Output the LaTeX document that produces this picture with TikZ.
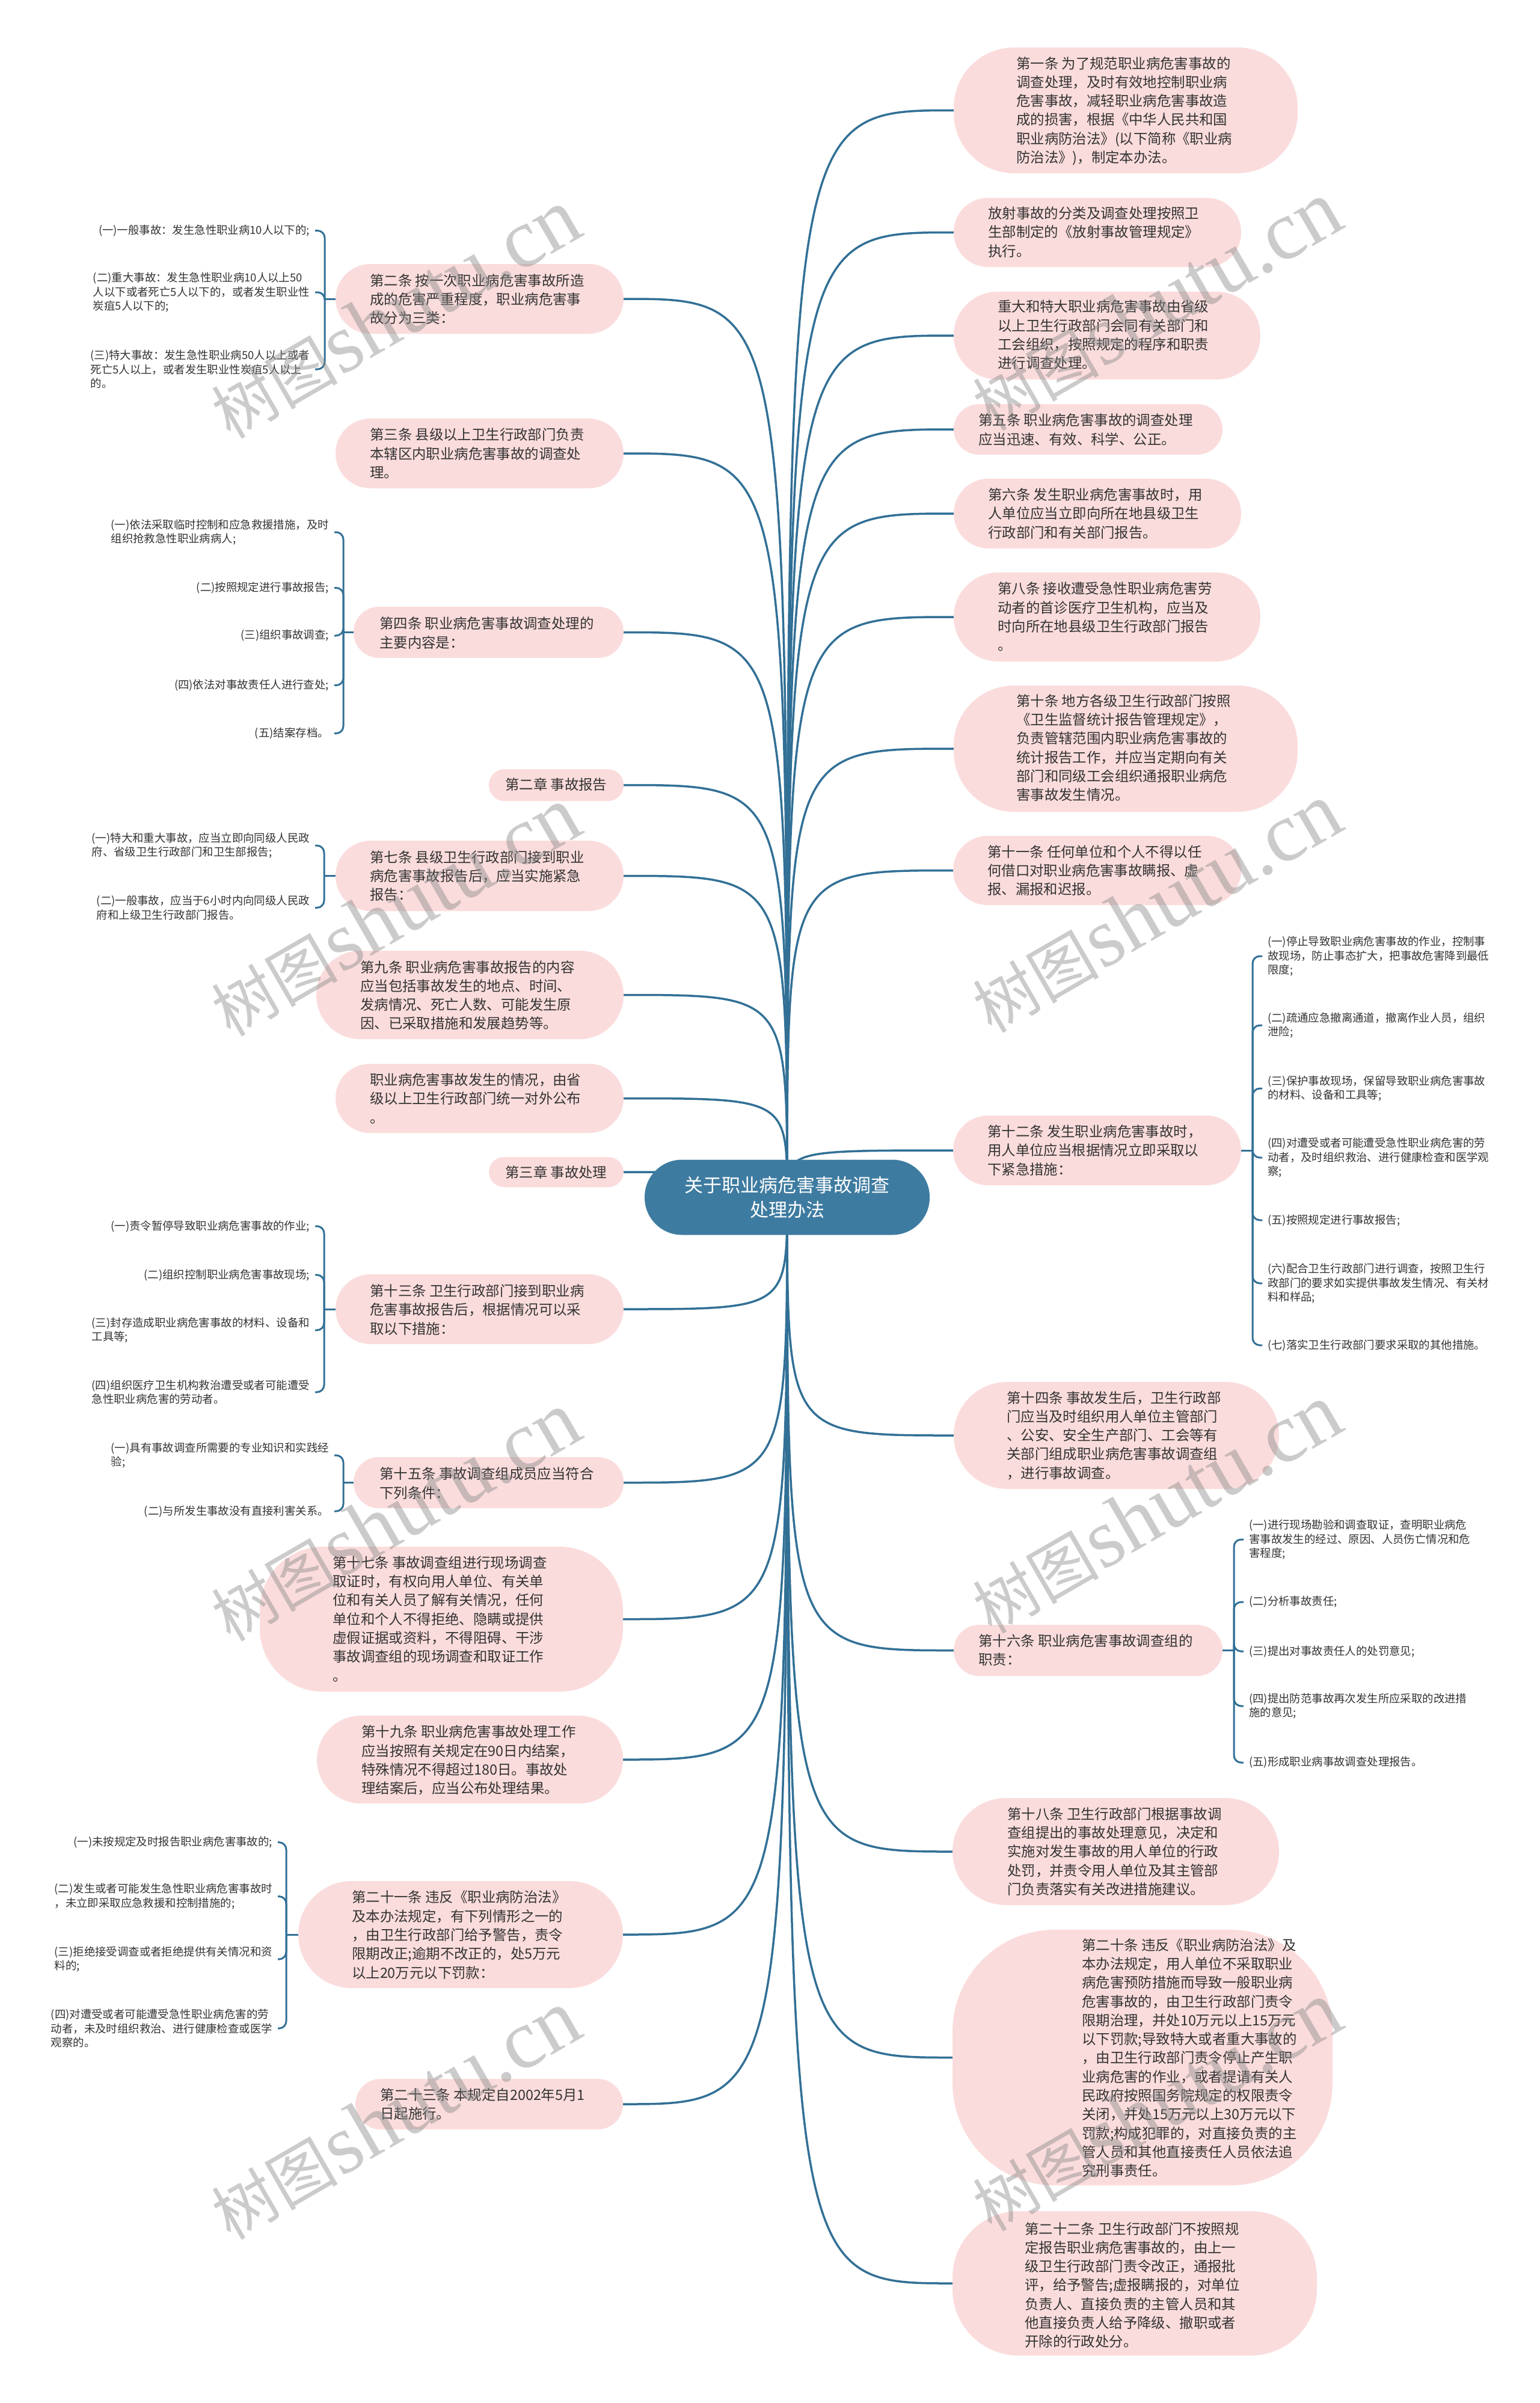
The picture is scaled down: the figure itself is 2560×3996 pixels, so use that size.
\documentclass[tikz,border=0pt]{standalone}
\usepackage{fontspec}
\setmainfont{Noto Sans CJK SC}
\newfontfamily\wmserif{Liberation Serif}
\usetikzlibrary{calc}
\pgfdeclarelayer{bg}
\pgfsetlayers{bg,main}
\definecolor{pinkc}{RGB}{251,220,220}
\definecolor{rootc}{RGB}{62,123,160}
\definecolor{linec}{RGB}{50,112,150}
\definecolor{txtc}{RGB}{51,51,51}
\definecolor{wmc}{RGB}{140,140,140}
\newcommand\mainsz{\fontsize{23.4pt}{31.3pt}\selectfont}
\newcommand\leafsz{\fontsize{18.4pt}{23.4pt}\selectfont}
\newcommand\rootsz{\fontsize{31pt}{41pt}\selectfont}
\newcommand\lstrut{\rule[-0.1em]{0pt}{0.9em}}
\newcommand\wmtext{{\fontsize{105pt}{105pt}\selectfont 树图} {\wmserif\fontsize{140pt}{140pt}\selectfont shutu.cn}}
\tikzset{
  pill/.style={fill=pinkc, draw=none, inner sep=0pt, outer sep=0pt},
  mtxt/.style={anchor=west, inner sep=0pt, align=left, text=txtc, font=\mainsz},
  leafR/.style={anchor=west, inner xsep=9pt, inner ysep=0pt, align=left, text=txtc, font=\leafsz},
  leafL/.style={anchor=east, inner xsep=9pt, inner ysep=0pt, align=left, text=txtc, font=\leafsz},
  rootn/.style={fill=rootc, text=white, font=\rootsz, align=center, minimum width=474pt, minimum height=125pt, rounded corners=62pt, inner sep=0pt},
  conn/.style={draw=linec, line width=3.5pt},
  brk/.style={draw=linec, line width=3pt, rounded corners=12pt},
  wm/.style={rotate=30, text=wmc, opacity=0.45, inner sep=0pt}
}
\begin{document}
\begin{tikzpicture}[x=1pt,y=-1pt]
\useasboundingbox (0,0) rectangle (2560,3996);
\begin{pgfonlayer}{bg}
\fill[white] (0,0) rectangle (2560,3996);
\end{pgfonlayer}

% root
\node[rootn] (root) at (1309,1991) {关于职业病危害事故调查\\处理办法};

% ---------- right side ----------
\node[pill, minimum width=572pt, minimum height=209pt, rounded corners=100pt] (r1) at (1872,183.5) {};
\node[mtxt] (r1t) at (1690,184.7) {第一条 为了规范职业病危害事故的\\调查处理，及时有效地控制职业病\\危害事故，减轻职业病危害事故造\\成的损害，根据《中华人民共和国\\职业病防治法》(以下简称《职业病\\防治法》)，制定本办法。};

\node[pill, minimum width=478pt, minimum height=115pt, rounded corners=57pt] (r2) at (1825,386.5) {};
\node[mtxt] (r2t) at (1643,386) {放射事故的分类及调查处理按照卫\\生部制定的《放射事故管理规定》\\执行。};

\node[pill, minimum width=510pt, minimum height=146pt, rounded corners=73pt] (r3) at (1841,558) {};
\node[mtxt] (r3t) at (1659,557) {重大和特大职业病危害事故由省级\\以上卫生行政部门会同有关部门和\\工会组织，按照规定的程序和职责\\进行调查处理。};

\node[pill, minimum width=447pt, minimum height=84pt, rounded corners=42pt] (r4) at (1809.5,714) {};
\node[mtxt] (r4t) at (1627,714.5) {第五条 职业病危害事故的调查处理\\应当迅速、有效、科学、公正。};

\node[pill, minimum width=478pt, minimum height=116pt, rounded corners=58pt] (r5) at (1825,854) {};
\node[mtxt] (r5t) at (1643,854) {第六条 发生职业病危害事故时，用\\人单位应当立即向所在地县级卫生\\行政部门和有关部门报告。};

\node[pill, minimum width=510pt, minimum height=148pt, rounded corners=74pt] (r6) at (1841,1026) {};
\node[mtxt] (r6t) at (1659,1026) {第八条 接收遭受急性职业病危害劳\\动者的首诊医疗卫生机构，应当及\\时向所在地县级卫生行政部门报告\\\lstrut 。};

\node[pill, minimum width=572pt, minimum height=210pt, rounded corners=100pt] (r7) at (1872,1245) {};
\node[mtxt] (r7t) at (1690,1243.5) {第十条 地方各级卫生行政部门按照\\《卫生监督统计报告管理规定》，\\负责管辖范围内职业病危害事故的\\统计报告工作，并应当定期向有关\\部门和同级工会组织通报职业病危\\害事故发生情况。};

\node[pill, minimum width=479pt, minimum height=115pt, rounded corners=57pt] (r8) at (1824.5,1447.5) {};
\node[mtxt] (r8t) at (1642,1447.7) {第十一条 任何单位和个人不得以任\\何借口对职业病危害事故瞒报、虚\\报、漏报和迟报。};

\node[pill, minimum width=479pt, minimum height=116pt, rounded corners=58pt] (r9) at (1824.5,1913) {};
\node[mtxt] (r9t) at (1642,1913) {第十二条 发生职业病危害事故时，\\用人单位应当根据情况立即采取以\\下紧急措施：};

\node[leafR] (r9a) at (2099,1590) {(一)停止导致职业病危害事故的作业，控制事\\故现场，防止事态扩大，把事故危害降到最低\\限度;};
\node[leafR] (r9b) at (2099,1705) {(二)疏通应急撤离通道，撤离作业人员，组织\\泄险;};
\node[leafR] (r9c) at (2099,1810) {(三)保护事故现场，保留导致职业病危害事故\\的材料、设备和工具等;};
\node[leafR] (r9d) at (2099,1925) {(四)对遭受或者可能遭受急性职业病危害的劳\\动者，及时组织救治、进行健康检查和医学观\\察;};
\node[leafR] (r9e) at (2099,2029) {(五)按照规定进行事故报告;};
\node[leafR] (r9f) at (2099,2134) {(六)配合卫生行政部门进行调查，按照卫生行\\政部门的要求如实提供事故发生情况、有关材\\料和样品;};
\node[leafR] (r9g) at (2099,2237) {(七)落实卫生行政部门要求采取的其他措施。};

\node[pill, minimum width=541pt, minimum height=178pt, rounded corners=89pt] (r10) at (1856.5,2387) {};
\node[mtxt] (r10t) at (1674,2387) {第十四条 事故发生后，卫生行政部\\门应当及时组织用人单位主管部门\\、公安、安全生产部门、工会等有\\关部门组成职业病危害事故调查组\\，进行事故调查。};

\node[pill, minimum width=447pt, minimum height=85pt, rounded corners=42pt] (r11) at (1809.5,2744.5) {};
\node[mtxt] (r11t) at (1627,2744) {第十六条 职业病危害事故调查组的\\职责：};

\node[leafR] (r11a) at (2068,2560) {(一)进行现场勘验和调查取证，查明职业病危\\害事故发生的经过、原因、人员伤亡情况和危\\害程度;};
\node[leafR] (r11b) at (2068,2664) {(二)分析事故责任;};
\node[leafR] (r11c) at (2068,2746) {(三)提出对事故责任人的处罚意见;};
\node[leafR] (r11d) at (2068,2837) {(四)提出防范事故再次发生所应采取的改进措\\施的意见;};
\node[leafR] (r11e) at (2068,2931) {(五)形成职业病事故调查处理报告。};

\node[pill, minimum width=543pt, minimum height=178pt, rounded corners=89pt] (r12) at (1855.5,3079) {};
\node[mtxt] (r12t) at (1675,3079) {第十八条 卫生行政部门根据事故调\\查组提出的事故处理意见，决定和\\实施对发生事故的用人单位的行政\\处罚，并责令用人单位及其主管部\\门负责落实有关改进措施建议。};

\node[pill, minimum width=632pt, minimum height=425pt, rounded corners=170pt] (r13) at (1900,3421.5) {};
\node[mtxt] (r13t) at (1799,3422) {第二十条 违反《职业病防治法》及\\本办法规定，用人单位不采取职业\\病危害预防措施而导致一般职业病\\危害事故的，由卫生行政部门责令\\限期治理，并处10万元以上15万元\\以下罚款;导致特大或者重大事故的\\，由卫生行政部门责令停止产生职\\业病危害的作业，或者提请有关人\\民政府按照国务院规定的权限责令\\关闭，并处15万元以上30万元以下\\罚款;构成犯罪的，对直接负责的主\\管人员和其他直接责任人员依法追\\究刑事责任。};

\node[pill, minimum width=606pt, minimum height=240pt, rounded corners=110pt] (r14) at (1887,3797) {};
\node[mtxt] (r14t) at (1704,3800) {第二十二条 卫生行政部门不按照规\\定报告职业病危害事故的，由上一\\级卫生行政部门责令改正，通报批\\评，给予警告;虚报瞒报的，对单位\\负责人、直接负责的主管人员和其\\他直接负责人给予降级、撤职或者\\开除的行政处分。};

% ---------- left side ----------
\node[pill, minimum width=479pt, minimum height=116pt, rounded corners=58pt] (l2) at (797.5,497) {};
\node[mtxt] (l2t) at (615,497.5) {第二条 按一次职业病危害事故所造\\成的危害严重程度，职业病危害事\\故分为三类：};
\node[leafL] (l2a) at (524,383.5) {(一)一般事故：发生急性职业病10人以下的;};
\node[leafL] (l2b) at (524,486) {(二)重大事故：发生急性职业病10人以上50\\人以下或者死亡5人以下的，或者发生职业性\\炭疽5人以下的;};
\node[leafL] (l2c) at (524,614) {(三)特大事故：发生急性职业病50人以上或者\\死亡5人以上，或者发生职业性炭疽5人以上\\的。};

\node[pill, minimum width=479pt, minimum height=116pt, rounded corners=58pt] (l3) at (797.5,754) {};
\node[mtxt] (l3t) at (615,754) {第三条 县级以上卫生行政部门负责\\本辖区内职业病危害事故的调查处\\理。};

\node[pill, minimum width=449pt, minimum height=85pt, rounded corners=42pt] (l4) at (812.5,1051.5) {};
\node[mtxt] (l4t) at (631,1052.5) {第四条 职业病危害事故调查处理的\\主要内容是：};
\node[leafL] (l4a) at (556,885) {(一)依法采取临时控制和应急救援措施，及时\\组织抢救急性职业病病人;};
\node[leafL] (l4b) at (556,977.5) {(二)按照规定进行事故报告;};
\node[leafL] (l4c) at (556,1057) {(三)组织事故调查;};
\node[leafL] (l4d) at (556,1139.6) {(四)依法对事故责任人进行查处;};
\node[leafL] (l4e) at (556,1219.5) {(五)结案存档。};

\node[pill, minimum width=224pt, minimum height=53pt, rounded corners=26pt] (l5) at (925,1305.5) {};
\node[mtxt] (l5t) at (840,1305) {第二章 事故报告};

\node[pill, minimum width=479pt, minimum height=117pt, rounded corners=58pt] (l7) at (797.5,1456.5) {};
\node[mtxt] (l7t) at (615,1456.7) {第七条 县级卫生行政部门接到职业\\病危害事故报告后，应当实施紧急\\报告：};
\node[leafL] (l7a) at (524,1406) {(一)特大和重大事故，应当立即向同级人民政\\府、省级卫生行政部门和卫生部报告;};
\node[leafL] (l7b) at (524,1509.5) {(二)一般事故，应当于6小时内向同级人民政\\府和上级卫生行政部门报告。};

\node[pill, minimum width=511pt, minimum height=147pt, rounded corners=73pt] (l9) at (781.5,1654.5) {};
\node[mtxt] (l9t) at (599,1655) {第九条 职业病危害事故报告的内容\\应当包括事故发生的地点、时间、\\发病情况、死亡人数、可能发生原\\因、已采取措施和发展趋势等。};

\node[pill, minimum width=479pt, minimum height=115pt, rounded corners=57pt] (l10) at (797.5,1826.5) {};
\node[mtxt] (l10t) at (615,1827) {职业病危害事故发生的情况，由省\\级以上卫生行政部门统一对外公布\\\lstrut 。};

\node[pill, minimum width=224pt, minimum height=50pt, rounded corners=25pt] (l11) at (925,1949) {};
\node[mtxt] (l11t) at (840,1949) {第三章 事故处理};

\node[pill, minimum width=479pt, minimum height=116pt, rounded corners=58pt] (l13) at (797.5,2177) {};
\node[mtxt] (l13t) at (615,2178) {第十三条 卫生行政部门接到职业病\\危害事故报告后，根据情况可以采\\取以下措施：};
\node[leafL] (l13a) at (524,2039) {(一)责令暂停导致职业病危害事故的作业;};
\node[leafL] (l13b) at (524,2120) {(二)组织控制职业病危害事故现场;};
\node[leafL] (l13c) at (524,2212) {(三)封存造成职业病危害事故的材料、设备和\\工具等;};
\node[leafL] (l13d) at (524,2315) {(四)组织医疗卫生机构救治遭受或者可能遭受\\急性职业病危害的劳动者。};

\node[pill, minimum width=449pt, minimum height=85pt, rounded corners=42pt] (l15) at (812.5,2465.5) {};
\node[mtxt] (l15t) at (631,2466.5) {第十五条 事故调查组成员应当符合\\下列条件：};
\node[leafL] (l15a) at (556,2420) {(一)具有事故调查所需要的专业知识和实践经\\验;};
\node[leafL] (l15b) at (556,2513) {(二)与所发生事故没有直接利害关系。};

\node[pill, minimum width=604pt, minimum height=241pt, rounded corners=105pt] (l17) at (734,2692.5) {};
\node[mtxt] (l17t) at (553,2692.5) {第十七条 事故调查组进行现场调查\\取证时，有权向用人单位、有关单\\位和有关人员了解有关情况，任何\\单位和个人不得拒绝、隐瞒或提供\\虚假证据或资料，不得阻碍、干涉\\事故调查组的现场调查和取证工作\\\lstrut 。};

\node[pill, minimum width=509pt, minimum height=146pt, rounded corners=73pt] (l19) at (781.5,2926) {};
\node[mtxt] (l19t) at (601,2927) {第十九条 职业病危害事故处理工作\\应当按照有关规定在90日内结案，\\特殊情况不得超过180日。事故处\\理结案后，应当公布处理结果。};

\node[pill, minimum width=540pt, minimum height=178pt, rounded corners=89pt] (l21) at (766,3217) {};
\node[mtxt] (l21t) at (585,3217.5) {第二十一条 违反《职业病防治法》\\及本办法规定，有下列情形之一的\\，由卫生行政部门给予警告，责令\\限期改正;逾期不改正的，处5万元\\以上20万元以下罚款：};
\node[leafL] (l21a) at (462,3063.6) {(一)未按规定及时报告职业病危害事故的;};
\node[leafL] (l21b) at (462,3153.5) {(二)发生或者可能发生急性职业病危害事故时\\，未立即采取应急救援和控制措施的;};
\node[leafL] (l21c) at (462,3258) {(三)拒绝接受调查或者拒绝提供有关情况和资\\料的;};
\node[leafL] (l21d) at (462,3373) {(四)对遭受或者可能遭受急性职业病危害的劳\\动者，未及时组织救治、进行健康检查或医学\\观察的。};

\node[pill, minimum width=445pt, minimum height=84pt, rounded corners=42pt] (l23) at (813.5,3499) {};
\node[mtxt] (l23t) at (632,3499) {第二十三条 本规定自2002年5月1\\日起施行。};

% ---------- connectors ----------
\begin{pgfonlayer}{bg}
\foreach \n in {r1,r2,r3,r4,r5,r6,r7,r8,r9,r10,r11,r12,r13,r14}
  \draw[conn] (root.center) .. controls (root.center |- \n.west) .. (\n.west);
\foreach \n in {l2,l3,l4,l5,l7,l9,l10,l11,l13,l15,l17,l19,l21,l23}
  \draw[conn] (root.center) .. controls (root.center |- \n.east) .. (\n.east);

\coordinate (r9k) at (2083,1913);
\draw[brk] (r9.east) -- (r9k);
\foreach \c in {a,b,c,d,e,f,g} \draw[brk] (r9k) |- (r9\c.west);

\coordinate (r11k) at (2052,2744.5);
\draw[brk] (r11.east) -- (r11k);
\foreach \c in {a,b,c,d,e} \draw[brk] (r11k) |- (r11\c.west);

\coordinate (l2k) at (540,497);
\draw[brk] (l2.west) -- (l2k);
\foreach \c in {a,b,c} \draw[brk] (l2k) |- (l2\c.east);

\coordinate (l4k) at (571,1051.5);
\draw[brk] (l4.west) -- (l4k);
\foreach \c in {a,b,c,d,e} \draw[brk] (l4k) |- (l4\c.east);

\coordinate (l7k) at (539,1456.5);
\draw[brk] (l7.west) -- (l7k);
\foreach \c in {a,b} \draw[brk] (l7k) |- (l7\c.east);

\coordinate (l13k) at (539,2177);
\draw[brk] (l13.west) -- (l13k);
\foreach \c in {a,b,c,d} \draw[brk] (l13k) |- (l13\c.east);

\coordinate (l15k) at (571,2465.5);
\draw[brk] (l15.west) -- (l15k);
\foreach \c in {a,b} \draw[brk] (l15k) |- (l15\c.east);

\coordinate (l21k) at (476,3217);
\draw[brk] (l21.west) -- (l21k);
\foreach \c in {a,b,c,d} \draw[brk] (l21k) |- (l21\c.east);
\end{pgfonlayer}

% ---------- watermarks ----------
\node[wm] (w1) at (657,522) {\wmtext};
\node[wm] (w2) at (657,1516) {\wmtext};
\node[wm] (w3) at (657,2522) {\wmtext};
\node[wm] (w4) at (657,3517) {\wmtext};
\node[wm] (w5) at (1923,509) {\wmtext};
\node[wm] (w6) at (1923,1510) {\wmtext};
\node[wm] (w7) at (1923,2509) {\wmtext};
\node[wm] (w8) at (1923,3503) {\wmtext};
\end{tikzpicture}
\end{document}
